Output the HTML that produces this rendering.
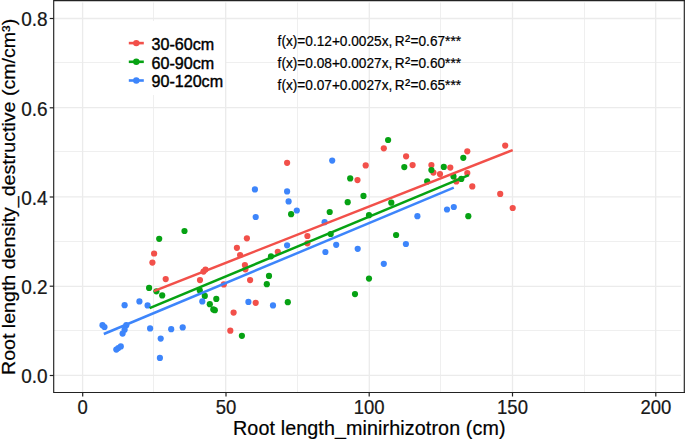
<!DOCTYPE html>
<html><head><meta charset="utf-8"><title>Root length density</title>
<style>
html,body{margin:0;padding:0;background:#fff;}
body{width:685px;height:439px;overflow:hidden;}
svg{display:block;}
text{font-family:"Liberation Sans",Arial,sans-serif;fill:#000;stroke:#000;stroke-width:0.2px;}
.tick{font-size:19px;fill:#1a1a1a;}
.title{font-size:19.7px;}
.leg{font-size:16.1px;stroke-width:0.4px;}
.eq{font-size:14.1px;}
</style></head><body>
<svg width="685" height="439" viewBox="0 0 685 439">
<rect width="685" height="439" fill="#fff"/>
<g><line x1="153.5" y1="2.5" x2="153.5" y2="392.5" stroke="#efefef" stroke-width="1"/>
<line x1="297.5" y1="2.5" x2="297.5" y2="392.5" stroke="#efefef" stroke-width="1"/>
<line x1="440.5" y1="2.5" x2="440.5" y2="392.5" stroke="#efefef" stroke-width="1"/>
<line x1="584.5" y1="2.5" x2="584.5" y2="392.5" stroke="#efefef" stroke-width="1"/>
<line x1="53.7" y1="62.5" x2="681" y2="62.5" stroke="#efefef" stroke-width="1"/>
<line x1="53.7" y1="151.5" x2="681" y2="151.5" stroke="#efefef" stroke-width="1"/>
<line x1="53.7" y1="241.5" x2="681" y2="241.5" stroke="#efefef" stroke-width="1"/>
<line x1="53.7" y1="330.5" x2="681" y2="330.5" stroke="#efefef" stroke-width="1"/>
<line x1="82.6" y1="2.5" x2="82.6" y2="392.5" stroke="#ebebeb" stroke-width="1.3"/>
<line x1="225.7" y1="2.5" x2="225.7" y2="392.5" stroke="#ebebeb" stroke-width="1.3"/>
<line x1="369.3" y1="2.5" x2="369.3" y2="392.5" stroke="#ebebeb" stroke-width="1.3"/>
<line x1="512.5" y1="2.5" x2="512.5" y2="392.5" stroke="#ebebeb" stroke-width="1.3"/>
<line x1="655.7" y1="2.5" x2="655.7" y2="392.5" stroke="#ebebeb" stroke-width="1.3"/>
<line x1="53.7" y1="375.4" x2="681" y2="375.4" stroke="#ebebeb" stroke-width="1.3"/>
<line x1="53.7" y1="286.4" x2="681" y2="286.4" stroke="#ebebeb" stroke-width="1.3"/>
<line x1="53.7" y1="196.9" x2="681" y2="196.9" stroke="#ebebeb" stroke-width="1.3"/>
<line x1="53.7" y1="107.6" x2="681" y2="107.6" stroke="#ebebeb" stroke-width="1.3"/>
<line x1="53.7" y1="18.5" x2="681" y2="18.5" stroke="#ebebeb" stroke-width="1.3"/></g>
<g fill="#F2504A"><circle cx="154.1" cy="253.5" r="3.1"/><circle cx="152.4" cy="262.6" r="3.1"/><circle cx="165.7" cy="279.1" r="3.1"/><circle cx="203.5" cy="271.6" r="3.1"/><circle cx="205.5" cy="269.6" r="3.1"/><circle cx="200" cy="280.1" r="3.1"/><circle cx="236.9" cy="247.8" r="3.1"/><circle cx="246.9" cy="238.3" r="3.1"/><circle cx="240.1" cy="255" r="3.1"/><circle cx="244.9" cy="265.1" r="3.1"/><circle cx="245.4" cy="269.3" r="3.1"/><circle cx="250.1" cy="280.1" r="3.1"/><circle cx="223.8" cy="284.4" r="3.1"/><circle cx="255.7" cy="302.8" r="3.1"/><circle cx="233.6" cy="312.6" r="3.1"/><circle cx="230.3" cy="330.7" r="3.1"/><circle cx="277.8" cy="251.8" r="3.1"/><circle cx="307.4" cy="236" r="3.1"/><circle cx="307.4" cy="243.3" r="3.1"/><circle cx="287.1" cy="162.8" r="3.1"/><circle cx="365.7" cy="165.4" r="3.1"/><circle cx="357.5" cy="180.1" r="3.1"/><circle cx="383.8" cy="148.3" r="3.1"/><circle cx="406.1" cy="156.3" r="3.1"/><circle cx="412.6" cy="165.1" r="3.1"/><circle cx="431.4" cy="165.1" r="3.1"/><circle cx="433.4" cy="172.6" r="3.1"/><circle cx="505.2" cy="145.6" r="3.1"/><circle cx="467.3" cy="151.3" r="3.1"/><circle cx="450.3" cy="167.6" r="3.1"/><circle cx="440" cy="174.1" r="3.1"/><circle cx="467.3" cy="173.1" r="3.1"/><circle cx="456.3" cy="181.4" r="3.1"/><circle cx="472.3" cy="186.4" r="3.1"/><circle cx="500.2" cy="193.9" r="3.1"/><circle cx="512.7" cy="208" r="3.1"/></g>
<g fill="#06A213"><circle cx="159.2" cy="238.8" r="3.1"/><circle cx="149.1" cy="287.9" r="3.1"/><circle cx="156.4" cy="291.3" r="3.1"/><circle cx="162.2" cy="295.4" r="3.1"/><circle cx="199.8" cy="290.4" r="3.1"/><circle cx="204.8" cy="295.9" r="3.1"/><circle cx="209.8" cy="304.2" r="3.1"/><circle cx="216.3" cy="298.9" r="3.1"/><circle cx="213.3" cy="309.4" r="3.1"/><circle cx="214.8" cy="310.2" r="3.1"/><circle cx="241.9" cy="335.8" r="3.1"/><circle cx="266.8" cy="284.2" r="3.1"/><circle cx="271" cy="256.3" r="3.1"/><circle cx="269" cy="275.9" r="3.1"/><circle cx="287.8" cy="302.2" r="3.1"/><circle cx="355" cy="294.1" r="3.1"/><circle cx="369" cy="278.6" r="3.1"/><circle cx="396.1" cy="235" r="3.1"/><circle cx="330.7" cy="234" r="3.1"/><circle cx="184.5" cy="231" r="3.1"/><circle cx="388.1" cy="140" r="3.1"/><circle cx="404.3" cy="167.1" r="3.1"/><circle cx="431.4" cy="170.1" r="3.1"/><circle cx="427.2" cy="181.4" r="3.1"/><circle cx="350.2" cy="178.4" r="3.1"/><circle cx="363.5" cy="195.9" r="3.1"/><circle cx="347.7" cy="202.2" r="3.1"/><circle cx="329.7" cy="212" r="3.1"/><circle cx="291.1" cy="214.2" r="3.1"/><circle cx="391.3" cy="202.7" r="3.1"/><circle cx="369" cy="215.2" r="3.1"/><circle cx="463.3" cy="157.8" r="3.1"/><circle cx="443.8" cy="166.9" r="3.1"/><circle cx="453.5" cy="176.4" r="3.1"/><circle cx="461.3" cy="178.9" r="3.1"/><circle cx="468.3" cy="216.2" r="3.1"/></g>
<g fill="#3D85FB"><circle cx="124.6" cy="305.2" r="3.1"/><circle cx="139.4" cy="301.4" r="3.1"/><circle cx="147.6" cy="305.4" r="3.1"/><circle cx="202.3" cy="301.4" r="3.1"/><circle cx="248.4" cy="301.9" r="3.1"/><circle cx="102.5" cy="325.2" r="3.1"/><circle cx="104.5" cy="327" r="3.1"/><circle cx="126.3" cy="325.2" r="3.1"/><circle cx="124.6" cy="329.7" r="3.1"/><circle cx="122.6" cy="333.6" r="3.1"/><circle cx="150.1" cy="328.4" r="3.1"/><circle cx="171.2" cy="329.2" r="3.1"/><circle cx="182.7" cy="327.4" r="3.1"/><circle cx="160.7" cy="338.6" r="3.1"/><circle cx="159.9" cy="357.9" r="3.1"/><circle cx="116.3" cy="349.6" r="3.1"/><circle cx="118.3" cy="348.1" r="3.1"/><circle cx="120.8" cy="346.4" r="3.1"/><circle cx="287.1" cy="245.3" r="3.1"/><circle cx="325.4" cy="252" r="3.1"/><circle cx="336.2" cy="244.8" r="3.1"/><circle cx="357.7" cy="248.8" r="3.1"/><circle cx="383.8" cy="263.8" r="3.1"/><circle cx="405.9" cy="244" r="3.1"/><circle cx="273" cy="305.4" r="3.1"/><circle cx="254.9" cy="189.4" r="3.1"/><circle cx="255.7" cy="217" r="3.1"/><circle cx="332.2" cy="160.6" r="3.1"/><circle cx="287.1" cy="191.4" r="3.1"/><circle cx="288.6" cy="201.4" r="3.1"/><circle cx="296.8" cy="210.5" r="3.1"/><circle cx="324.6" cy="222.2" r="3.1"/><circle cx="417.4" cy="216.2" r="3.1"/><circle cx="447" cy="209.5" r="3.1"/><circle cx="453.8" cy="207" r="3.1"/></g>
<g stroke-width="2.5" stroke-linecap="butt" fill="none"><line x1="153.9" y1="291.1" x2="512.7" y2="150.1" stroke="#F2504A"/><line x1="149.6" y1="308.2" x2="468.8" y2="175.1" stroke="#06A213"/><line x1="103.8" y1="334" x2="453.8" y2="187.7" stroke="#3D85FB"/></g>
<rect x="120.5" y="21" width="104.5" height="74" fill="#fff"/>
<line x1="128.8" y1="43.1" x2="143.8" y2="43.1" stroke="#F2504A" stroke-width="2.6"/><circle cx="136.3" cy="43.1" r="3.2" fill="#F2504A"/><text class="leg" x="151.5" y="50.0">30-60cm</text>
<line x1="128.8" y1="61.8" x2="143.8" y2="61.8" stroke="#06A213" stroke-width="2.6"/><circle cx="136.3" cy="61.8" r="3.2" fill="#06A213"/><text class="leg" x="151.5" y="68.7">60-90cm</text>
<line x1="128.8" y1="80.5" x2="143.8" y2="80.5" stroke="#3D85FB" stroke-width="2.6"/><circle cx="136.3" cy="80.5" r="3.2" fill="#3D85FB"/><text class="leg" x="151.5" y="87.4">90-120cm</text>
<text class="eq" transform="translate(277.6,45.6) scale(0.970,1)">f(x)=0.12+0.0025x,<tspan dx="-1.3"> R</tspan><tspan font-size="16" dx="0.4">²</tspan><tspan dx="0.3">=0.67***</tspan></text>
<text class="eq" transform="translate(277.6,68.2) scale(0.970,1)">f(x)=0.08+0.0027x,<tspan dx="-1.3"> R</tspan><tspan font-size="16" dx="0.4">²</tspan><tspan dx="0.3">=0.60***</tspan></text>
<text class="eq" transform="translate(277.6,90.3) scale(0.970,1)">f(x)=0.07+0.0027x,<tspan dx="-1.3"> R</tspan><tspan font-size="16" dx="0.4">²</tspan><tspan dx="0.3">=0.65***</tspan></text>
<path d="M53.7 0 V392.5 H685 M53.7 0.6 H685 M684.3 0 V392.5" fill="none" stroke="#222" stroke-width="1.15"/>
<line x1="82.7" y1="392.5" x2="82.7" y2="396.5" stroke="#222" stroke-width="1.2"/>
<text class="tick" style="font-size:18.5px" transform="translate(82.7,413.5) scale(1,1.07)" text-anchor="middle">0</text>
<line x1="226.0" y1="392.5" x2="226.0" y2="396.5" stroke="#222" stroke-width="1.2"/>
<text class="tick" style="font-size:18.5px" transform="translate(226.0,413.5) scale(1,1.07)" text-anchor="middle">50</text>
<line x1="369.2" y1="392.5" x2="369.2" y2="396.5" stroke="#222" stroke-width="1.2"/>
<text class="tick" style="font-size:18.5px" transform="translate(369.2,413.5) scale(1,1.07)" text-anchor="middle">100</text>
<line x1="512.5" y1="392.5" x2="512.5" y2="396.5" stroke="#222" stroke-width="1.2"/>
<text class="tick" style="font-size:18.5px" transform="translate(512.5,413.5) scale(1,1.07)" text-anchor="middle">150</text>
<line x1="655.8" y1="392.5" x2="655.8" y2="396.5" stroke="#222" stroke-width="1.2"/>
<text class="tick" style="font-size:18.5px" transform="translate(655.8,413.5) scale(1,1.07)" text-anchor="middle">200</text>
<line x1="49.7" y1="375.5" x2="53.7" y2="375.5" stroke="#222" stroke-width="1.2"/>
<text class="tick" transform="translate(47.6,383.2) scale(1,1.06)" text-anchor="end">0.0</text>
<line x1="49.7" y1="286.2" x2="53.7" y2="286.2" stroke="#222" stroke-width="1.2"/>
<text class="tick" transform="translate(47.6,293.9) scale(1,1.06)" text-anchor="end">0.2</text>
<line x1="49.7" y1="197.0" x2="53.7" y2="197.0" stroke="#222" stroke-width="1.2"/>
<text class="tick" transform="translate(47.6,204.7) scale(1,1.06)" text-anchor="end">0.4</text>
<line x1="49.7" y1="107.8" x2="53.7" y2="107.8" stroke="#222" stroke-width="1.2"/>
<text class="tick" transform="translate(47.6,115.5) scale(1,1.06)" text-anchor="end">0.6</text>
<line x1="49.7" y1="18.5" x2="53.7" y2="18.5" stroke="#222" stroke-width="1.2"/>
<text class="tick" transform="translate(47.6,26.2) scale(1,1.06)" text-anchor="end">0.8</text>
<text class="title" x="233.0" y="434.8" textLength="272.5" lengthAdjust="spacing">Root length_minirhizotron (cm)</text>
<text class="title" style="font-size:18.2px" transform="translate(14.5,375.0) rotate(-90) scale(1.0775,1)">Root length density_destructive (cm/cm³)</text>
</svg></body></html>
